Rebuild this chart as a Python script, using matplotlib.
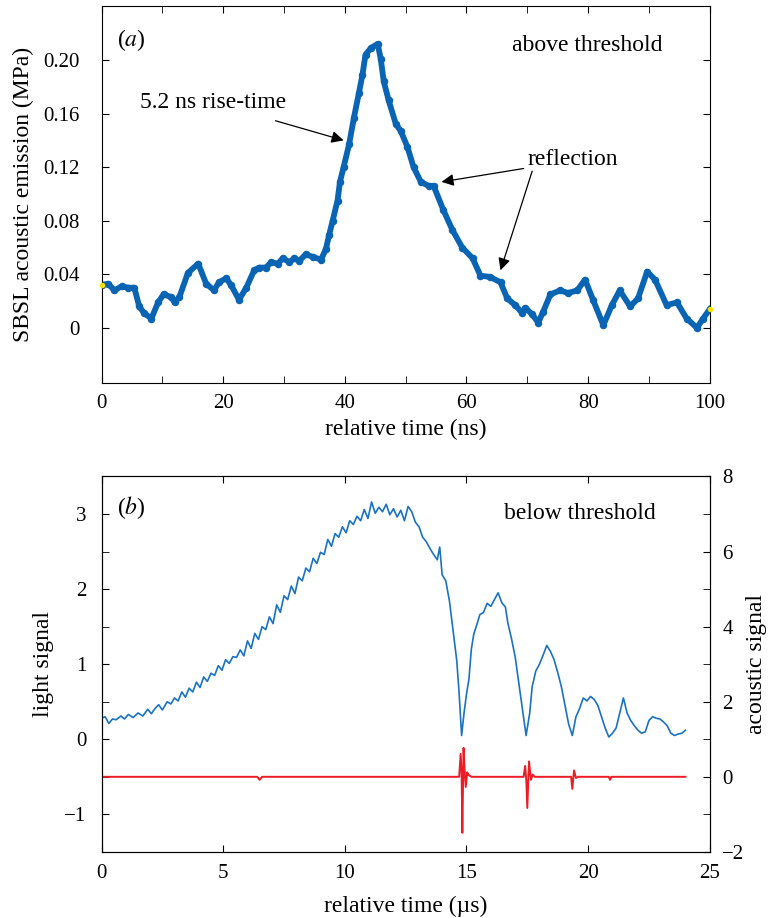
import numpy as np
import matplotlib.pyplot as plt
from matplotlib.ticker import MultipleLocator

plt.rcParams['font.family'] = ['Liberation Serif', 'DejaVu Serif']
plt.rcParams['font.size'] = 17
plt.rcParams['xtick.labelsize'] = 15
plt.rcParams['ytick.labelsize'] = 15
plt.rcParams['mathtext.fontset'] = 'stix'

# === (a) above threshold: SBSL acoustic emission vs time (ns) ===
t_ns = [0, 1.1, 2.1, 3.3, 4.4, 5.4, 6.2, 7.0, 8.2, 9.3, 10.2, 11.5, 12.0, 12.8,
        14.2, 15.9, 17.2, 18.5, 19.3, 20.5, 21.3, 22.6, 23.8, 25.1, 25.9, 27.0,
        27.9, 29.0, 29.8, 30.9, 31.7, 32.5, 33.6, 34.7, 36.1, 36.9, 37.4, 38.0,
        38.8, 39.2, 39.8, 40.7, 41.5, 42.3, 42.9, 43.4, 44.3, 45.4, 45.9, 46.4,
        47.2, 48.4, 49.2, 50.3, 51.3, 52.5, 53.8, 54.6, 56.2, 57.7, 59.3, 61.0,
        62.3, 63.9, 65.6, 66.7, 68.0, 69.2, 69.7, 70.8, 71.8, 72.6, 73.8, 75.4,
        76.7, 78.2, 79.5, 80.8, 82.5, 83.9, 85.2, 86.9, 88.2, 89.7, 91.0, 92.9,
        94.6, 96.2, 97.9, 98.9, 100]
p_mpa = [0.032, 0.033, 0.028, 0.031, 0.030, 0.030, 0.016, 0.011, 0.007, 0.019,
         0.025, 0.023, 0.019, 0.023, 0.041, 0.048, 0.033, 0.028, 0.034, 0.037,
         0.032, 0.021, 0.030, 0.043, 0.045, 0.045, 0.049, 0.048, 0.052, 0.049,
         0.052, 0.050, 0.055, 0.053, 0.051, 0.059, 0.069, 0.080, 0.095, 0.109,
         0.120, 0.137, 0.157, 0.175, 0.189, 0.204, 0.209, 0.212, 0.201, 0.184,
         0.170, 0.152, 0.147, 0.135, 0.120, 0.109, 0.106, 0.106, 0.088, 0.073,
         0.060, 0.052, 0.039, 0.038, 0.034, 0.022, 0.017, 0.011, 0.015, 0.010,
         0.004, 0.012, 0.025, 0.028, 0.026, 0.028, 0.036, 0.021, 0.002, 0.017,
         0.028, 0.016, 0.022, 0.042, 0.036, 0.017, 0.019, 0.007, 0.000, 0.007,
         0.014]

# === (b) below threshold: light signal and acoustic signal vs time (us) ===
t_light = [0.0, 0.15, 0.3, 0.45, 0.6, 0.8, 0.95, 1.1, 1.3, 1.5, 1.7, 1.9, 2.05,
           2.2, 2.35, 2.5, 2.7, 2.85, 3.0, 3.15, 3.3, 3.45, 3.6, 3.75, 3.9,
           4.05, 4.2, 4.35, 4.5, 4.65, 4.8, 4.95, 5.1, 5.25, 5.4, 5.55, 5.7,
           5.85, 6.0, 6.15, 6.3, 6.45, 6.6, 6.75, 6.9, 7.05, 7.2, 7.35, 7.5,
           7.65, 7.8, 7.95, 8.1, 8.25, 8.4, 8.55, 8.7, 8.85, 9.0, 9.15, 9.3,
           9.45, 9.6, 9.75, 9.9, 10.05, 10.2, 10.35, 10.5, 10.65, 10.8, 10.95,
           11.1, 11.25, 11.4, 11.55, 11.7, 11.85, 12.0, 12.15, 12.3, 12.45,
           12.6, 12.75, 12.9, 13.05, 13.2, 13.35, 13.5, 13.65, 13.8, 13.9,
           14.0, 14.15, 14.3, 14.45, 14.6, 14.7, 14.8, 14.9, 15.0, 15.1, 15.2,
           15.3, 15.4, 15.55, 15.7, 15.85, 16.0, 16.15, 16.3, 16.45, 16.6, 16.7,
           16.85, 17.0, 17.15, 17.3, 17.45, 17.6, 17.7, 17.85, 18.0, 18.15,
           18.3, 18.45, 18.6, 18.75, 18.9, 19.05, 19.2, 19.35, 19.5, 19.65,
           19.8, 19.95, 20.1, 20.25, 20.4, 20.55, 20.7, 20.85, 21.0, 21.15,
           21.3, 21.45, 21.6, 21.75, 21.9, 22.05, 22.2, 22.35, 22.5, 22.65,
           22.8, 22.95, 23.1, 23.25, 23.4, 23.55, 23.7, 23.85, 24.0]
light = [0.28, 0.30, 0.21, 0.27, 0.26, 0.31, 0.27, 0.33, 0.29, 0.35, 0.31, 0.40,
         0.34, 0.41, 0.46, 0.39, 0.50, 0.47, 0.55, 0.51, 0.63, 0.56, 0.68, 0.63,
         0.76, 0.69, 0.83, 0.77, 0.88, 0.85, 0.98, 0.92, 1.06, 1.01, 1.10, 1.09,
         1.19, 1.11, 1.31, 1.21, 1.41, 1.33, 1.50, 1.46, 1.63, 1.54, 1.79, 1.69,
         1.91, 1.86, 2.04, 1.94, 2.16, 2.11, 2.28, 2.23, 2.41, 2.34, 2.49, 2.46,
         2.66, 2.57, 2.74, 2.69, 2.83, 2.75, 2.91, 2.86, 2.97, 2.91, 3.06, 2.94,
         3.16, 3.01, 3.09, 3.03, 3.13, 2.99, 3.07, 2.96, 3.05, 2.91, 3.10, 3.03,
         2.89, 2.83, 2.69, 2.63, 2.54, 2.46, 2.39, 2.56, 2.19, 2.11, 1.84, 1.45,
         1.05, 0.60, 0.05, 0.35, 0.60, 0.80, 1.20, 1.40, 1.50, 1.66, 1.69, 1.81,
         1.77, 1.86, 1.95, 1.82, 1.76, 1.55, 1.34, 1.10, 0.75, 0.40, 0.05, 0.35,
         0.70, 0.91, 1.00, 1.12, 1.25, 1.17, 1.06, 0.89, 0.70, 0.45, 0.20, 0.05,
         0.30, 0.41, 0.55, 0.51, 0.57, 0.53, 0.45, 0.30, 0.15, 0.03, 0.08, 0.15,
         0.35, 0.55, 0.35, 0.25, 0.18, 0.12, 0.08, 0.10, 0.25, 0.30, 0.28, 0.27,
         0.23, 0.18, 0.08, 0.05, 0.07, 0.08, 0.12]

t_ac = [0, 6.4, 6.5, 6.6, 14.7, 14.76, 14.8, 14.83, 14.88, 14.93, 14.97, 15.03,
        15.09, 15.2, 17.35, 17.41, 17.46, 17.5, 17.57, 17.65, 17.72, 17.8, 19.3,
        19.35, 19.42, 19.5, 19.6, 20.85, 20.9, 20.95, 24.0]
acoustic = [0, 0, -0.08, 0, 0, 0.61, 0.1, -1.49, 0.77, 0.1, -0.27, 0.12, 0.05,
            0, 0, 0.29, -0.1, -0.83, 0.41, -0.08, 0.06, 0, 0, -0.32, 0.17,
            -0.03, 0, 0, -0.08, 0, 0]

blue_a = '#0a64b4'
blue_b = '#1a72c0'
red = '#ec1c24'

fig = plt.figure(figsize=(7.69, 9.18), dpi=100)

# --- panel (a) ---
ax1 = fig.add_axes([0.132, 0.583, 0.791, 0.410])
ax1.plot(t_ns, p_mpa, '-o', color=blue_a, lw=4.2, ms=4.4)
ax1.plot([t_ns[0], t_ns[-1]], [p_mpa[0], p_mpa[-1]], 'o', color='#f4e000',
         ms=3, clip_on=False, zorder=5)
ax1.set_xlim(0, 100)
ax1.set_ylim(-0.041, 0.24)
ax1.xaxis.set_major_locator(MultipleLocator(20))
ax1.xaxis.set_minor_locator(MultipleLocator(10))
ax1.set_yticks([0, 0.04, 0.08, 0.12, 0.16, 0.20])
ax1.set_yticklabels(['0', '0.04', '0.08', '0.12', '0.16', '0.20'])
ax1.tick_params(which='both', direction='in', top=True, right=True, length=5)
ax1.tick_params(axis='y', pad=16)
ax1.tick_params(axis='x', pad=8)
ax1.set_xlabel('relative time (ns)', labelpad=4)
ax1.set_ylabel('SBSL acoustic emission (MPa)', labelpad=6)

ax1.text(0.026, 0.91, '($a$)', transform=ax1.transAxes, ha='left', va='center')
ax1.text(79.8, 0.211, 'above threshold', ha='center', va='center')
ax1.annotate('5.2 ns rise-time', xy=(39.8, 0.140), xytext=(18.4, 0.168),
             ha='center', va='center',
             arrowprops=dict(arrowstyle='-|>', color='k', lw=0.9,
                             mutation_scale=18, shrinkA=12, shrinkB=0))
ax1.text(77.5, 0.126, 'reflection', ha='center', va='center')
ax1.annotate('', xy=(55.9, 0.109), xytext=(69.4, 0.119),
             arrowprops=dict(arrowstyle='-|>', color='k', lw=0.9,
                             mutation_scale=18, shrinkA=0, shrinkB=0))
ax1.annotate('', xy=(65.6, 0.043), xytext=(70.8, 0.117),
             arrowprops=dict(arrowstyle='-|>', color='k', lw=0.9,
                             mutation_scale=18, shrinkA=0, shrinkB=0))

# --- panel (b) ---
ax2 = fig.add_axes([0.132, 0.072, 0.791, 0.409])
ax3 = ax2.twinx()
ax2.plot(t_light, light, color=blue_b, lw=1.2)
ax3.plot(t_ac, acoustic, color=red, lw=1.4)
ax2.set_xlim(0, 25)
ax2.set_ylim(-1.5, 3.5)
ax3.set_ylim(-2, 8)
ax2.xaxis.set_major_locator(MultipleLocator(5))
ax2.yaxis.set_major_locator(MultipleLocator(1))
ax2.yaxis.set_minor_locator(MultipleLocator(0.5))
ax3.yaxis.set_major_locator(MultipleLocator(2))
ax3.yaxis.set_minor_locator(MultipleLocator(1))
ax2.tick_params(which='both', direction='in', top=True, length=5)
ax2.tick_params(axis='y', pad=11)
ax2.tick_params(axis='x', pad=9)
ax3.tick_params(which='both', direction='in', length=5, pad=9)
ax2.set_xlabel('relative time (µs)', labelpad=9)
ax2.set_ylabel('light signal', labelpad=7)
ax3.set_ylabel('acoustic signal', labelpad=1)

ax2.text(0.026, 0.918, '($b$)', transform=ax2.transAxes, ha='left', va='center')
ax2.text(19.65, 3.0, 'below threshold', ha='center', va='center')

fig.savefig('out.png', dpi=100)
